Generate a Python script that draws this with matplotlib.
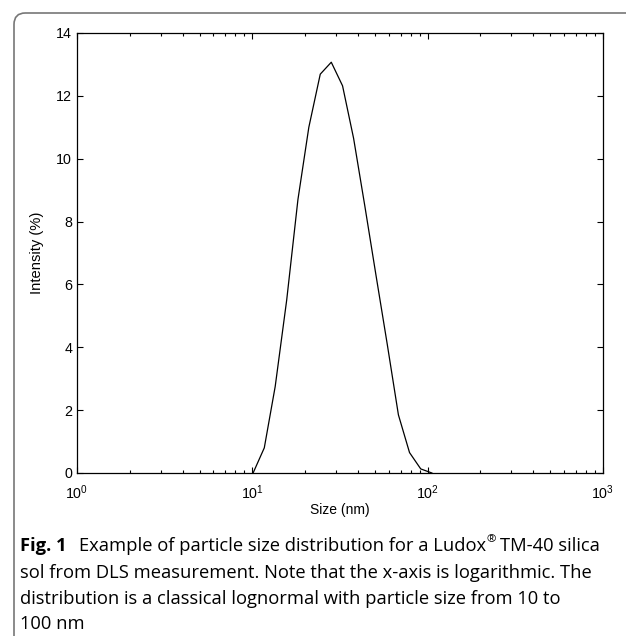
#!/usr/bin/env python3
"""DLS 粒径分布 (Ludox TM-40) の再描画."""

import matplotlib
matplotlib.use("Agg")
import matplotlib.pyplot as plt
from matplotlib.patches import FancyBboxPatch

# 粒径 [nm] と強度 [%].
size_nm = [10.1, 11.7, 13.5, 15.7, 18.2, 21.0, 24.4, 28.2, 32.7, 37.8,
           43.8, 50.7, 58.8, 68.1, 78.8, 91.3, 105.7]
intensity = [0.0, 0.80, 2.75, 5.5, 8.7, 11.0, 12.69, 13.07, 12.32, 10.65,
             8.5, 6.3, 4.1, 1.85, 0.65, 0.13, 0.0]

yticks = [0, 2, 4, 6, 8, 10, 12, 14]
caption_lines = [
    "sol from DLS measurement. Note that the x-axis is logarithmic. The",
    "distribution is a classical lognormal with particle size from 10 to",
    "100 nm",
]

plt.rcParams["font.family"] = ["Liberation Sans", "DejaVu Sans"]
plt.rcParams["mathtext.fontset"] = "custom"
plt.rcParams["mathtext.rm"] = "Liberation Sans"
plt.rcParams["mathtext.default"] = "regular"

W, H = 626, 636
fig = plt.figure(figsize=(W / 100, H / 100), dpi=100)
ax = fig.add_axes([77 / W, 1 - 473 / H, (603 - 77) / W, (473 - 33) / H])

ax.plot(size_nm, intensity, color="black", lw=0.9)
ax.set_xscale("log")
ax.set_xlim(1, 1000)
ax.set_ylim(0, 14)
ax.set_yticks(yticks)
ax.tick_params(which="both", direction="in", top=True, right=True,
               labelsize=10.3, width=0.8, color="black")
ax.tick_params(which="major", length=4.5, pad=3.5)
ax.tick_params(which="minor", length=2.5)
ax.tick_params(axis="x", which="major", pad=7.5)
for s in ax.spines.values():
    s.set_linewidth(0.9)
ax.set_xlabel("Size (nm)", fontsize=10, labelpad=1)
ax.set_ylabel("Intensity (%)", fontsize=10.6, labelpad=9)

# 枠 (左上の角丸).
frame = FancyBboxPatch((14 / W, -0.1), 1.2, 1.1 - 13 / H,
                       boxstyle="round,pad=0,rounding_size=0.018",
                       transform=fig.transFigure, fill=False,
                       edgecolor="#777777", lw=1.2, clip_on=False)
fig.add_artist(frame)

# キャプション.
cap_font = "Open Sans"
cap_size = 13.2
fig.canvas.draw()
r = fig.canvas.get_renderer()
x0 = 20 / W
y1 = 1 - 546 / H
t = fig.text(x0, y1, "Fig. 1", fontsize=cap_size, family=cap_font,
             weight="bold", va="center", ha="left")
bb = t.get_window_extent(r)
t2 = fig.text((bb.x1 + 12) / W, y1, "Example of particle size distribution for a Ludox",
              fontsize=cap_size, family=cap_font, va="center", ha="left")
bb = t2.get_window_extent(r)
t3 = fig.text((bb.x1 + 0.5) / W, y1 + 6 / H, "®", fontsize=cap_size * 0.62,
              family=cap_font, va="center", ha="left")
bb = t3.get_window_extent(r)
fig.text((bb.x1 + 4) / W, y1, "TM-40 silica", fontsize=cap_size,
         family=cap_font, va="center", ha="left")
for i, line in enumerate(caption_lines):
    fig.text(x0, 1 - (573 + 25.5 * i) / H, line, fontsize=cap_size,
             family=cap_font, va="center", ha="left")

fig.savefig("out.png", dpi=100)
